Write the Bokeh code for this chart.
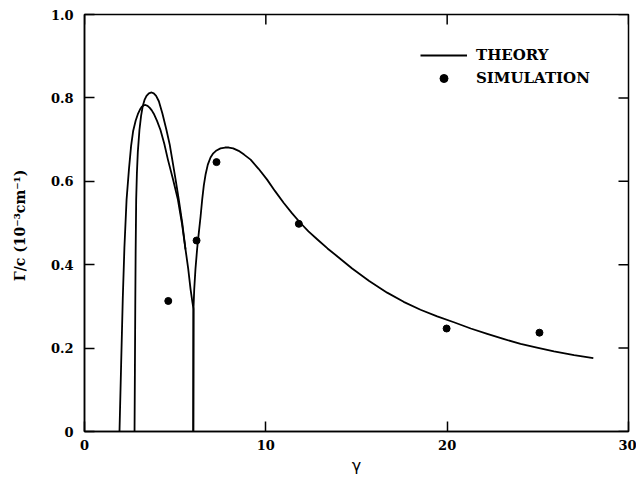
from bokeh.plotting import figure
from bokeh.models import Range1d, FixedTicker, Legend, LegendItem
from bokeh.embed import file_html
from bokeh.resources import INLINE

# Theory branch A (outer hump, peak ~0.78)
theory_a_x = [1.93, 2.02, 2.11, 2.20, 2.32, 2.45, 2.57, 2.68, 2.82, 2.96, 3.06, 3.16, 3.26, 3.36, 3.48, 3.60, 3.71,
              3.82, 4.00, 4.19, 4.40, 4.60, 4.88, 5.15, 5.37, 5.57, 5.72, 5.85, 5.95, 6.01, 6.00]
theory_a_y = [0.0, 0.16, 0.317, 0.44, 0.556, 0.628, 0.685, 0.720, 0.745, 0.763, 0.772, 0.779, 0.782, 0.783, 0.781, 0.776, 0.770,
              0.762, 0.745, 0.723, 0.690, 0.652, 0.605, 0.556, 0.500, 0.437, 0.390, 0.341, 0.310, 0.294, 0.0]

# Theory branch B (inner hump, peak ~0.81)
theory_b_x = [2.76, 2.78, 2.80, 2.82, 2.85, 2.89, 2.94, 3.03, 3.12, 3.21, 3.31, 3.42, 3.55, 3.70, 3.82, 3.95, 4.10,
              4.30, 4.52, 4.70, 4.84, 5.02, 5.20, 5.40, 5.57]
theory_b_y = [0.0, 0.15, 0.30, 0.43, 0.556, 0.620, 0.670, 0.723, 0.757, 0.780, 0.795, 0.805, 0.811, 0.813, 0.811, 0.805, 0.792,
              0.762, 0.723, 0.688, 0.652, 0.605, 0.556, 0.497, 0.437]

# Theory branch C (second hump and tail)
theory_c_x = [6.00, 6.01, 6.05, 6.12, 6.21, 6.30, 6.40, 6.49, 6.58, 6.68, 6.80, 6.95, 7.10, 7.28, 7.50, 7.75, 7.96,
              8.20, 8.50, 8.80, 9.16, 9.60, 10.07, 10.50, 10.99, 11.45, 11.91, 12.35, 12.83, 13.40, 14.00, 14.76,
              15.70, 16.69, 17.60, 18.53, 19.45, 20.37, 21.30, 22.21, 23.10, 24.05, 24.95, 25.89, 27.00, 28.06]
theory_c_y = [0.0, 0.294, 0.340, 0.390, 0.437, 0.475, 0.515, 0.556, 0.590, 0.617, 0.640, 0.657, 0.667, 0.674, 0.679, 0.681, 0.681,
              0.679, 0.673, 0.664, 0.652, 0.630, 0.604, 0.577, 0.548, 0.523, 0.500, 0.480, 0.461, 0.439, 0.418, 0.391,
              0.361, 0.333, 0.311, 0.292, 0.276, 0.262, 0.247, 0.234, 0.222, 0.210, 0.201, 0.192, 0.183, 0.176]

# Simulation points
sim_x = [4.62, 6.18, 7.28, 11.82, 19.97, 25.09]
sim_y = [0.313, 0.458, 0.646, 0.498, 0.247, 0.237]

x_ticks = [0, 10, 20, 30]
y_ticks = [0, 0.2, 0.4, 0.6, 0.8, 1.0]
y_tick_labels = {0: "0", 0.2: "0.2", 0.4: "0.4", 0.6: "0.6", 0.8: "0.8", 1.0: "1.0"}

x_min, x_max = 0, 30
y_min, y_max = 0, 1.0

W, H = 636, 477
B_LEFT, B_RIGHT, B_TOP, B_BOTTOM = 84, 8, 14, 44
TICK_PX = 10

p = figure(width=W, height=H, output_backend="svg", toolbar_location=None,
           x_range=Range1d(x_min, x_max), y_range=Range1d(y_min, y_max),
           min_border_left=B_LEFT, min_border_right=B_RIGHT, min_border_top=B_TOP, min_border_bottom=B_BOTTOM)
p.background_fill_color = "white"
p.border_fill_color = "white"
p.outline_line_color = "black"
p.outline_line_width = 1.5
p.xgrid.visible = False
p.ygrid.visible = False

serif = "DejaVu Serif"
for ax in (p.xaxis[0], p.yaxis[0]):
    ax.major_tick_in = TICK_PX
    ax.major_tick_out = 0
    ax.minor_tick_line_color = None
    ax.major_tick_line_color = "black"
    ax.major_tick_line_width = 1.5
    ax.axis_line_color = "black"
    ax.axis_line_width = 1.5
    ax.major_label_text_font = serif
    ax.major_label_text_font_style = "bold"
    ax.major_label_text_font_size = "13px"
    ax.major_label_text_color = "black"
    ax.axis_label_text_color = "black"

p.xaxis[0].ticker = FixedTicker(ticks=x_ticks)
p.yaxis[0].ticker = FixedTicker(ticks=y_ticks)
p.yaxis[0].major_label_overrides = y_tick_labels
p.xaxis[0].major_label_standoff = 8
p.yaxis[0].major_label_standoff = 11

p.xaxis[0].axis_label = "γ"
p.xaxis[0].axis_label_text_font = "DejaVu Sans"
p.xaxis[0].axis_label_text_font_style = "normal"
p.xaxis[0].axis_label_text_font_size = "16px"
p.xaxis[0].axis_label_standoff = 3

p.yaxis[0].axis_label = "Γ/c  (10⁻³cm⁻¹)"
p.yaxis[0].axis_label_text_font = serif
p.yaxis[0].axis_label_text_font_style = "bold"
p.yaxis[0].axis_label_text_font_size = "14px"
p.yaxis[0].axis_label_standoff = 20

# mirrored inward ticks on the top and right edges (about TICK_PX long)
frame_w = W - B_LEFT - B_RIGHT
frame_h = H - B_TOP - B_BOTTOM
tick_dx = (x_max - x_min) * TICK_PX / frame_w
tick_dy = (y_max - y_min) * TICK_PX / frame_h
p.segment(x0=x_ticks, y0=[y_max] * len(x_ticks), x1=x_ticks, y1=[y_max - tick_dy] * len(x_ticks),
          line_color="black", line_width=1.5)
p.segment(x0=[x_max] * len(y_ticks), y0=y_ticks, x1=[x_max - tick_dx] * len(y_ticks), y1=y_ticks,
          line_color="black", line_width=1.5)

la = p.line(theory_a_x, theory_a_y, line_color="black", line_width=1.8, line_join="round")
lb = p.line(theory_b_x, theory_b_y, line_color="black", line_width=1.8, line_join="round")
lc = p.line(theory_c_x, theory_c_y, line_color="black", line_width=1.8, line_join="round")
sc = p.scatter(sim_x, sim_y, size=7, marker="circle", fill_color="black", line_color="black")

legend = Legend(items=[LegendItem(label="THEORY", renderers=[lc]),
                       LegendItem(label="SIMULATION", renderers=[sc])],
                location=(336, 343))
legend.glyph_width = 47
legend.glyph_height = 20
legend.label_height = 20
legend.spacing = 3
legend.padding = 0
legend.margin = 0
legend.label_standoff = 9
legend.border_line_color = None
legend.background_fill_alpha = 0
legend.label_text_font = serif
legend.label_text_font_style = "bold"
legend.label_text_font_size = "15px"
legend.label_text_color = "black"
p.add_layout(legend, "center")

open("out.html", "w").write(file_html(p, INLINE))
